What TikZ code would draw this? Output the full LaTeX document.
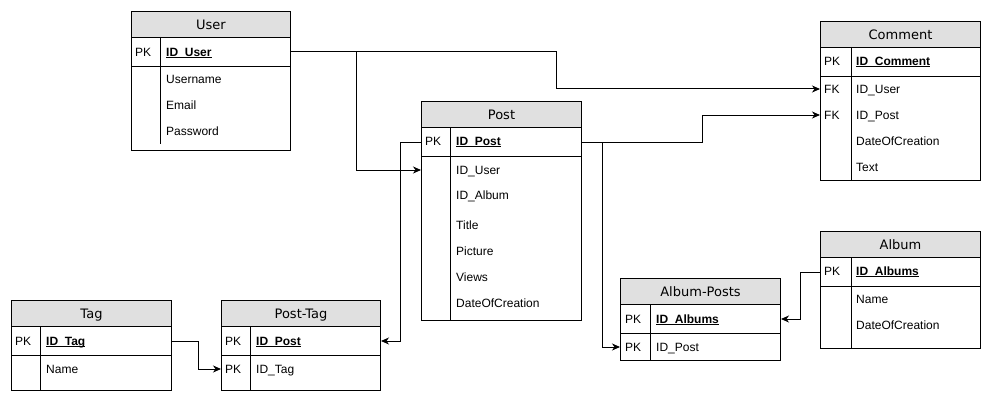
\documentclass[tikz,border=0pt]{standalone}
\usepackage{fontspec}
\setmainfont{Liberation Sans}
\newfontfamily\hdrfont{DejaVu Sans}
\usetikzlibrary{arrows.meta}
\definecolor{hdrgray}{HTML}{E0E0E0}
\newcommand\pkfield[1]{\setbox0\hbox{\bfseries #1}\rlap{\rule[-1.7pt]{\wd0}{0.9pt}}\box0}
\tikzset{
  tblbox/.style={draw=black, line width=1pt, fill=white, anchor=north west, inner sep=0pt},
  hdrbox/.style={draw=black, line width=1pt, fill=hdrgray, anchor=north west, inner sep=0pt, minimum height=26pt, text height=9.4pt, text depth=0pt, font=\hdrfont\fontsize{13}{15}\selectfont},
  pkbox/.style={draw=black, line width=1pt, anchor=north west, inner sep=0pt, minimum height=29pt},
  rowbox/.style={anchor=west, inner sep=0pt, minimum height=26pt},
  keytxt/.style={anchor=west, inner sep=0pt, text height=8.6pt, text depth=0pt, font=\fontsize{12}{14}\selectfont},
  fldtxt/.style={anchor=west, inner sep=0pt, text height=8.6pt, text depth=0pt, font=\fontsize{12}{14}\selectfont},
  divline/.style={line width=1pt},
  conn/.style={line width=1pt, -{Stealth[length=8pt,width=7pt,inset=2.5pt]}}
}
\begin{document}
\begin{tikzpicture}[x=1pt,y=-1pt]
\useasboundingbox[fill=white] (0,0) rectangle (991,404);

% ---------- User ----------
\node[tblbox, minimum width=159pt, minimum height=139pt] (user) at (131,11) {};
\node[hdrbox, minimum width=159pt] (user-h) at (131,11) {User};
\node[pkbox, minimum width=159pt] (user-pk) at (131,37) {};
\draw[divline] (160,37) -- (160,144);
\node[keytxt] (user-k1) at (135,52) {PK};
\node[fldtxt] (user-f1) at (166,52) {\pkfield{ID\_User}};
\node[fldtxt] (user-f2) at (166,79) {Username};
\node[fldtxt] (user-f3) at (166,105) {Email};
\node[fldtxt] (user-f4) at (166,131) {Password};

% ---------- Comment ----------
\node[tblbox, minimum width=160pt, minimum height=159pt] (cmt) at (820,21) {};
\node[hdrbox, minimum width=160pt] (cmt-h) at (820,21) {Comment};
\node[pkbox, minimum width=160pt] (cmt-pk) at (820,47) {};
\draw[divline] (851,47) -- (851,180);
\node[rowbox, minimum width=160pt] (cmt-user) at (820,89) {};
\node[rowbox, minimum width=160pt] (cmt-post) at (820,115) {};
\node[keytxt] (cmt-k1) at (824,61) {PK};
\node[keytxt] (cmt-k2) at (824,89) {FK};
\node[keytxt] (cmt-k3) at (824,115) {FK};
\node[fldtxt] (cmt-f1) at (856,61) {\pkfield{ID\_Comment}};
\node[fldtxt] (cmt-f2) at (856,89) {ID\_User};
\node[fldtxt] (cmt-f3) at (856,115) {ID\_Post};
\node[fldtxt] (cmt-f4) at (856,141) {DateOfCreation};
\node[fldtxt] (cmt-f5) at (856,167) {Text};

% ---------- Post ----------
\node[tblbox, minimum width=160pt, minimum height=219pt] (post) at (421,101) {};
\node[hdrbox, minimum width=160pt] (post-h) at (421,101) {Post};
\node[pkbox, minimum width=160pt] (post-pk) at (421,127) {};
\draw[divline] (450,127) -- (450,320);
\node[rowbox, minimum width=160pt] (post-user) at (421,170) {};
\node[keytxt] (post-k1) at (425,141) {PK};
\node[fldtxt] (post-f1) at (456,141) {\pkfield{ID\_Post}};
\node[fldtxt] (post-f2) at (456,170) {ID\_User};
\node[fldtxt] (post-f3) at (456,195) {ID\_Album};
\node[fldtxt] (post-f4) at (456,225) {Title};
\node[fldtxt] (post-f5) at (456,251) {Picture};
\node[fldtxt] (post-f6) at (456,277) {Views};
\node[fldtxt] (post-f7) at (456,303) {DateOfCreation};

% ---------- Tag ----------
\node[tblbox, minimum width=160pt, minimum height=90pt] (tag) at (11,300) {};
\node[hdrbox, minimum width=160pt] (tag-h) at (11,300) {Tag};
\node[pkbox, minimum width=160pt] (tag-pk) at (11,326) {};
\draw[divline] (40.5,326) -- (40.5,390);
\node[keytxt] (tag-k1) at (15,341) {PK};
\node[fldtxt] (tag-f1) at (46,341) {\pkfield{ID\_Tag}};
\node[fldtxt] (tag-f2) at (46,369) {Name};

% ---------- Post-Tag ----------
\node[tblbox, minimum width=159pt, minimum height=90pt] (pt) at (221,300) {};
\node[hdrbox, minimum width=159pt] (pt-h) at (221,300) {Post-Tag};
\node[pkbox, minimum width=159pt] (pt-pk) at (221,326) {};
\draw[divline] (250,326) -- (250,390);
\node[rowbox, minimum width=159pt] (pt-tag) at (221,369) {};
\node[keytxt] (pt-k1) at (225,341) {PK};
\node[keytxt] (pt-k2) at (225,369) {PK};
\node[fldtxt] (pt-f1) at (256,341) {\pkfield{ID\_Post}};
\node[fldtxt] (pt-f2) at (256,369) {ID\_Tag};

% ---------- Album-Posts ----------
\node[tblbox, minimum width=160pt, minimum height=82pt] (ap) at (620,278) {};
\node[hdrbox, minimum width=160pt] (ap-h) at (620,278) {Album-Posts};
\node[pkbox, minimum width=160pt] (ap-pk) at (620,304) {};
\draw[divline] (650,304) -- (650,360);
\node[rowbox, minimum width=160pt] (ap-post) at (620,347) {};
\node[keytxt] (ap-k1) at (625,319) {PK};
\node[keytxt] (ap-k2) at (625,347) {PK};
\node[fldtxt] (ap-f1) at (656,319) {\pkfield{ID\_Albums}};
\node[fldtxt] (ap-f2) at (656,347) {ID\_Post};

% ---------- Album ----------
\node[tblbox, minimum width=160pt, minimum height=117pt] (alb) at (820,231) {};
\node[hdrbox, minimum width=160pt] (alb-h) at (820,231) {Album};
\node[pkbox, minimum width=160pt] (alb-pk) at (820,257) {};
\draw[divline] (851,257) -- (851,348);
\node[keytxt] (alb-k1) at (824,271) {PK};
\node[fldtxt] (alb-f1) at (856,271) {\pkfield{ID\_Albums}};
\node[fldtxt] (alb-f2) at (856,299) {Name};
\node[fldtxt] (alb-f3) at (856,325) {DateOfCreation};

% ---------- Connectors ----------
\draw[conn] (user-pk.east) -- ++(265,0) |- (cmt-user.west);
\draw[conn] (user-pk.east) -- ++(65,0) |- (post-user.west);
\draw[conn] (post-pk.east) -- ++(120,0) |- (cmt-post.west);
\draw[conn] (post-pk.east) -- ++(20,0) |- (ap-post.west);
\draw[conn] (post-pk.west) -- ++(-21,0) |- (pt-pk.east);
\draw[conn] (tag-pk.east) -- ++(26,0) |- (pt-tag.west);
\draw[conn] (alb-pk.west) -- ++(-20,0) |- (ap-pk.east);
\end{tikzpicture}
\end{document}
